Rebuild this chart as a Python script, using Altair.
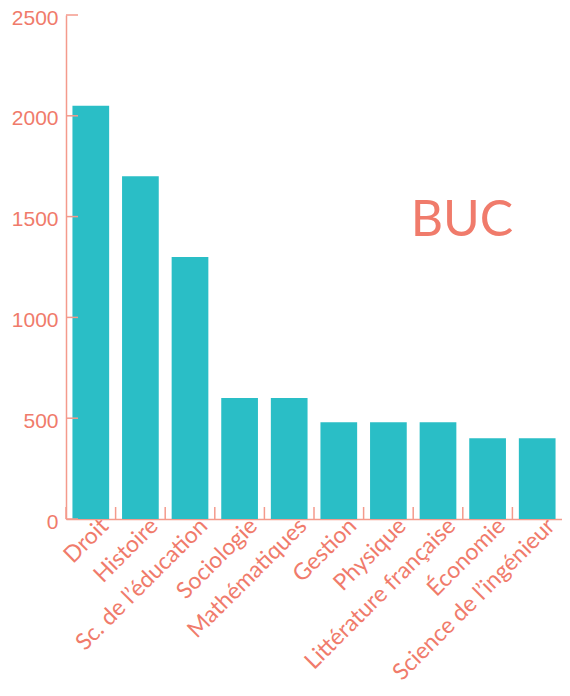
import altair as alt
import pandas as pd

categories = ["Droit", "Histoire", "Sc. de l\u2019\u00e9ducation", "Sociologie", "Math\u00e9matiques",
              "Gestion", "Physique", "Litt\u00e9rature fran\u00e7aise", "\u00c9conomie",
              "Science de l\u2019ing\u00e9nieur"]
values = [2050, 1700, 1300, 600, 600, 480, 480, 480, 400, 400]
y_ticks = [0, 500, 1000, 1500, 2000, 2500]
label_text = ["BUC"]

TEAL = "#2ABEC6"
SALMON = "#F07B6B"
AXIS = "#F49A8C"

df = pd.DataFrame({"cat": categories, "val": values})
ydf = pd.DataFrame({"val": y_ticks})
tdf = pd.DataFrame({"label": label_text})

W, H = 496, 504
STEP = W / 10

xscale = alt.Scale(paddingInner=0.26, paddingOuter=0.13)
yscale = alt.Scale(domain=[0, 2500])

bars = alt.Chart(df).mark_bar(color=TEAL).encode(
    x=alt.X("cat:N", sort=categories, scale=xscale, title=None,
            axis=alt.Axis(labelAngle=315, labelAlign="right", labelBaseline="middle",
                          labelPadding=3, labelOffset=14, ticks=False, grid=False,
                          labelFont="Lato", labelFontSize=23, labelColor=SALMON,
                          labelLimit=0, domainColor=AXIS, domainWidth=1.5,
                          labelOverlap=False)),
    y=alt.Y("val:Q", scale=yscale, title=None,
            axis=alt.Axis(values=y_ticks, format="d", ticks=False, grid=False,
                          labelPadding=8, labelOffset=3, labelFont="Liberation Sans",
                          labelFontSize=21, labelColor=SALMON, domainColor=AXIS,
                          domainWidth=1.5)),
)

yt = alt.Chart(ydf).mark_rule(color=AXIS, strokeWidth=1.5).encode(
    y=alt.Y("val:Q", scale=yscale, title=None),
    x=alt.value(0), x2=alt.value(12),
)

xt = alt.Chart(df).mark_rule(color=AXIS, strokeWidth=1.5, xOffset=-STEP / 2).encode(
    x=alt.X("cat:N", sort=categories, scale=xscale, title=None),
    y=alt.value(H), y2=alt.value(H - 12),
)

txt = alt.Chart(tdf).mark_text(font="Lato", fontSize=50, color=SALMON,
                               align="center", baseline="middle").encode(
    text="label:N", x=alt.value(396), y=alt.value(206),
)

chart = alt.layer(bars, yt, xt, txt).properties(
    width=W, height=H,
    background="white",
    autosize=alt.AutoSizeParams(type="none"),
    padding={"left": 58, "top": 7, "right": 0, "bottom": 169},
).configure_view(stroke=None).configure_axis(grid=False)

chart.save("out.html", embed_options={"renderer": "svg", "actions": False})
